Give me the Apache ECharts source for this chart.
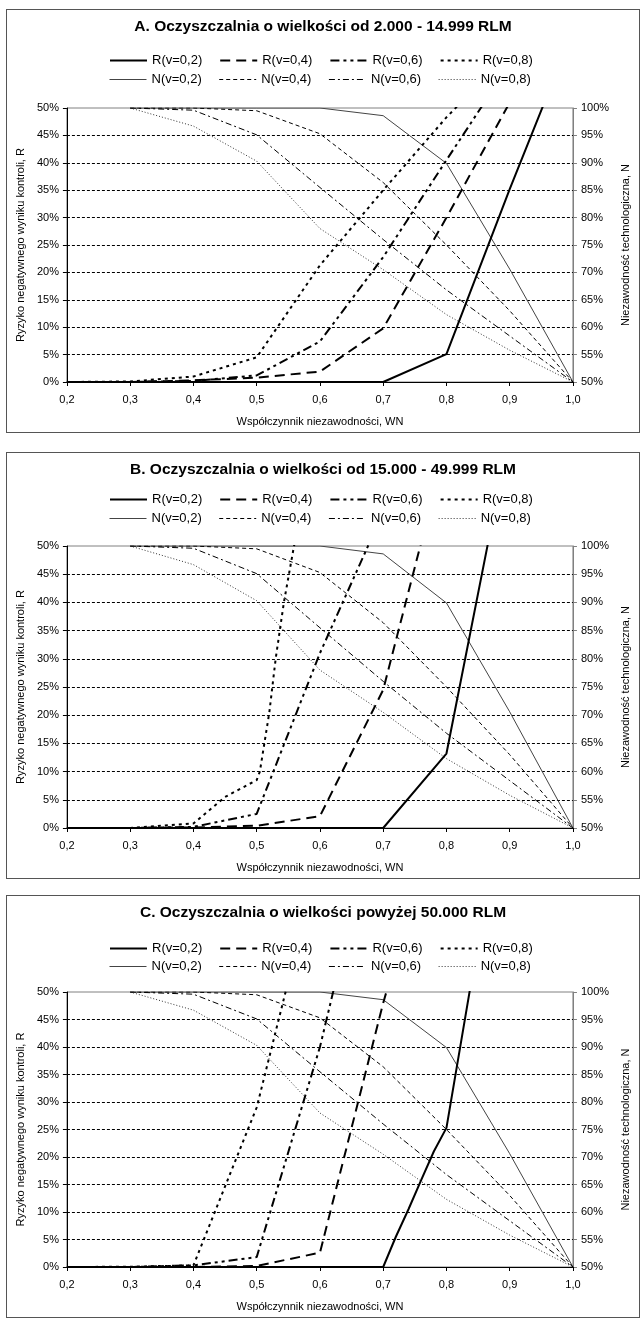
<!DOCTYPE html>
<html><head><meta charset="utf-8">
<script src="https://cdn.jsdelivr.net/npm/echarts@6/dist/echarts.min.js"></script>
<style>
html,body{margin:0;padding:0;background:#fff;width:643px;height:1321px;overflow:hidden;}
.box{position:absolute;left:6px;width:634px;border:1px solid #555;box-sizing:border-box;background:#fff;}
.chart{width:100%;height:100%;}
</style></head>
<body>
<div class="box" style="top:9px;height:424px"><div id="cA" class="chart"></div></div>
<div class="box" style="top:452px;height:427px"><div id="cB" class="chart"></div></div>
<div class="box" style="top:895px;height:423px"><div id="cC" class="chart"></div></div>
<script>
// ---------- DATA ----------
const titles = [
  'A. Oczyszczalnia o wielkości od 2.000 - 14.999 RLM',
  'B. Oczyszczalnia o wielkości od 15.000 - 49.999 RLM',
  'C. Oczyszczalnia o wielkości powyżej 50.000 RLM'
];
const rNames = ['R(v=0,2)','R(v=0,4)','R(v=0,6)','R(v=0,8)'];
const nNames = ['N(v=0,2)','N(v=0,4)','N(v=0,6)','N(v=0,8)'];
const xAxisName = 'Współczynnik niezawodności, WN';
const yLeftName = 'Ryzyko negatywnego wyniku kontroli, R';
const yRightName = 'Niezawodność technologiczna, N';

// WN grid points
const wn  = [0.2,0.3,0.4,0.5,0.6,0.7,0.8,0.9,1.0];
const wnN = [0.3,0.4,0.5,0.6,0.7,0.8,0.9,1.0];

// N (technological reliability, %) - same in all panels
const N02 = [100,100,100,100,98.6,89.9,70.6,50];
const N04 = [100,100,99.5,95.3,86.4,75.0,63.0,50];
const N06 = [100,99.6,95.1,85.5,76.0,66.8,58.4,50];
const N08 = [100,96.7,90.3,78.0,70.5,62.3,55.8,50];

// Panel A: R (%)
const A_R02 = [0,0,0,0,0,0,5.1,35.2,64];
const A_R04 = [0,0,0.3,0.8,1.9,9.8,30,51];
const A_R06 = [0,0,0.2,1.2,7.4,22.8,40.5,58];
const A_R08 = [0,0.1,1.0,4.5,21.3,35,48.3,60];

// Panel B: R (%)
const B_R02 = [0,0,0,0,0,0,13.2,70];
const B_R04 = [0,0,0.1,0.4,2.1,24.5,68];
const B_R06 = [0,0,0.2,2.5,31,56];
const B_R08_x = [0.2,0.3,0.4,0.45,0.5,0.505,0.52,0.53,0.543,0.559,0.6];
const B_R08   = [0,0,0.8,5.5,8.5,10,20.5,30,40,50,66];

// Panel C: R (%)
const C_R02_x = [0.2,0.3,0.4,0.5,0.6,0.7,0.72,0.74,0.76,0.78,0.8,0.9];
const C_R02   = [0,0,0,0,0,0,5.5,10.5,15.8,21,25.3,93];
const C_R04 = [0,0,0,0.2,2.6,48,88];
const C_R06 = [0,0,0.3,1.8,40,88];
const C_R08 = [0,0.05,0.3,29,75];

// tick labels
const fmtX = v => v.toFixed(1).replace('.', ',');
const fmtP = v => Math.round(v) + '%';

// ---------- STYLE ----------
const FONT = 'Liberation Sans, Arial, sans-serif';
const rStyles = [
  {type:'solid', width:2, color:'#000'},
  {type:[10,6], width:2, color:'#000'},
  {type:[9,4,3,4,3,4], width:2, color:'#000'},
  {type:[3,4], width:2, color:'#000'}
];
const nStyles = [
  {type:'solid', width:1, color:'#444'},
  {type:[4,3], width:1, color:'#000'},
  {type:[6,3,2,3], width:1, color:'#000'},
  {type:[1,2], width:1, color:'#333'}
];

function pairs(xs, ys){ return ys.map((y,i)=>[xs[i], y]); }

const panels = [
  {el:'cA', title:titles[0], grid:{left:54, top:98, width:513, height:276}, legTop:[44,63],
   R:[pairs(wn,A_R02), pairs(wn,A_R04), pairs(wn,A_R06), pairs(wn,A_R08)]},
  {el:'cB', title:titles[1], grid:{left:54, top:93, width:514, height:282}, legTop:[40,59],
   R:[pairs(wn,B_R02), pairs(wn,B_R04), pairs(wn,B_R06), pairs(B_R08_x,B_R08)]},
  {el:'cC', title:titles[2], grid:{left:55, top:96, width:516, height:278}, legTop:[46,64],
   R:[pairs(C_R02_x,C_R02), pairs(wn,C_R04), pairs(wn,C_R06), pairs(wn,C_R08)]}
];
const Nser = [pairs(wnN,N02), pairs(wnN,N04), pairs(wnN,N06), pairs(wnN,N08)];

const txt = {color:'#000', fontFamily:FONT, fontSize:11};

panels.forEach(p => {
  const chart = echarts.init(document.getElementById(p.el), null, {renderer:'canvas'});
  const legendCommon = {
    left:102, itemWidth:37, itemHeight:14, itemGap:17,
    itemStyle:{opacity:0},
    textStyle:{color:'#000', fontFamily:FONT, fontSize:13},
    padding:0, selectedMode:false
  };
  const series = [];
  Nser.forEach((d,i) => series.push({
    name:nNames[i], type:'line', yAxisIndex:1, data:d, symbol:'none', showSymbol:false,
    lineStyle:nStyles[i], itemStyle:{color:nStyles[i].color}, clip:true, animation:false, z:2
  }));
  p.R.forEach((d,i) => series.push({
    name:rNames[i], type:'line', yAxisIndex:0, data:d, symbol:'none', showSymbol:false,
    lineStyle:rStyles[i], itemStyle:{color:'#000'}, clip:true, animation:false, z:3
  }));
  chart.setOption({
    animation:false,
    backgroundColor:'#fff',
    title:{text:p.title, left:'center', top:9, padding:0,
      textStyle:{fontFamily:FONT, fontSize:15.5, fontWeight:'bold', color:'#000'}},
    legend:[
      Object.assign({}, legendCommon, {top:p.legTop[0],
        data:rNames.map((n,i)=>({name:n, lineStyle:{width:rStyles[i].width, type:rStyles[i].type, color:rStyles[i].color}}))}),
      Object.assign({}, legendCommon, {top:p.legTop[1],
        data:nNames.map((n,i)=>({name:n, lineStyle:{width:nStyles[i].width, type:nStyles[i].type, color:nStyles[i].color}}))})
    ],
    grid:Object.assign({show:true, borderColor:'#808080', borderWidth:1, backgroundColor:'#fff'}, p.grid),
    xAxis:{type:'value', min:0.2, max:1.0, interval:0.1,
      name:xAxisName, nameLocation:'middle', nameGap:34, nameTextStyle:txt,
      axisLine:{show:true, onZero:false, lineStyle:{color:'#000', width:1}},
      axisTick:{show:true, length:4, lineStyle:{color:'#000'}},
      axisLabel:Object.assign({formatter:fmtX, margin:12}, txt),
      splitLine:{show:false}},
    yAxis:[
      {type:'value', min:0, max:50, interval:5, position:'left',
        name:yLeftName, nameLocation:'middle', nameGap:37, nameRotate:90, nameTextStyle:txt,
        axisLine:{show:true, lineStyle:{color:'#000', width:1}},
        axisTick:{show:true, length:4, lineStyle:{color:'#000'}},
        axisLabel:Object.assign({formatter:fmtP, margin:8}, txt),
        splitLine:{show:true, showMinLine:false, showMaxLine:false, lineStyle:{color:'#000', type:[3,2], width:1}}},
      {type:'value', min:50, max:100, interval:5, position:'right',
        name:yRightName, nameLocation:'middle', nameGap:35, nameRotate:90, nameTextStyle:txt,
        axisLine:{show:true, lineStyle:{color:'#808080', width:1}},
        axisTick:{show:true, length:4, lineStyle:{color:'#808080'}},
        axisLabel:Object.assign({formatter:fmtP, margin:8}, txt),
        splitLine:{show:false}}
    ],
    series:series
  });
});
</script>
</body></html>
